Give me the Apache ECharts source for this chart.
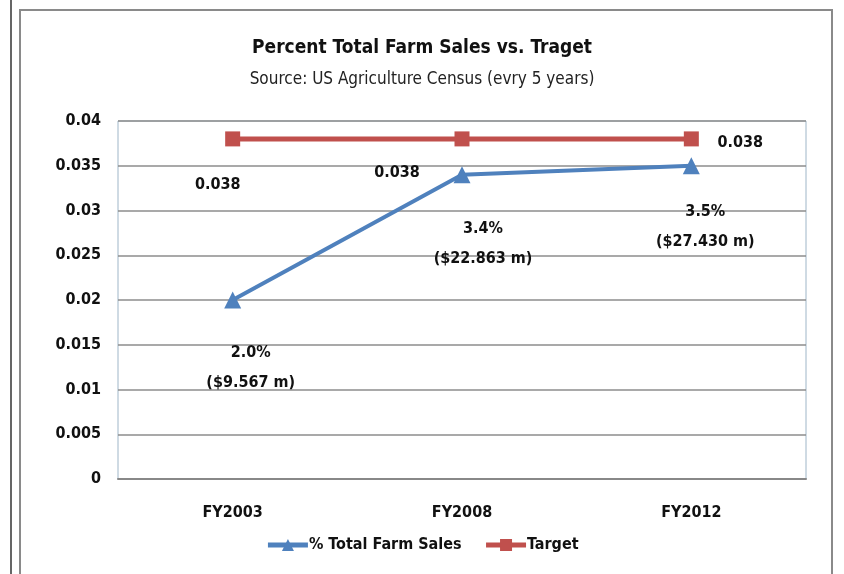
<!DOCTYPE html>
<html>
<head>
<meta charset="utf-8">
<script src="https://cdn.jsdelivr.net/npm/echarts@6/dist/echarts.min.js"></script>
<style>
  html, body { margin: 0; padding: 0; background: #fff; }
  #wrap { position: relative; width: 844px; height: 574px; overflow: hidden; }
  #edge { position: absolute; left: 10px; top: 0; width: 2px; height: 574px; background: #666; }
  #frame { position: absolute; left: 19px; top: 9px; width: 810px; height: 600px; border: 2px solid #8a8a8a; }
  #chart { position: absolute; left: 0; top: 0; width: 844px; height: 574px; }
</style>
</head>
<body>
<div id="wrap">
  <div id="edge"></div>
  <div id="frame"></div>
  <div id="chart"></div>
</div>
<script>
const categories = ['FY2003', 'FY2008', 'FY2012']
const salesShare = [0.02, 0.034, 0.035]
const salesDollars = ['$9.567 m', '$22.863 m', '$27.430 m']
const targetValues = [0.038, 0.038, 0.038]
const yTicks = [0, 0.005, 0.01, 0.015, 0.02, 0.025, 0.03, 0.035, 0.04]

// label offsets
const salesLabelOffsets = [[18, 68], [21, 69], [14, 61]]
const targetLabelOffsets = [[-15, 46], [-65, 34], [49, 4]]

const FONT = '"DejaVu Sans Condensed", Roboto, sans-serif'

const chart = echarts.init(document.getElementById('chart'))

chart.setOption({
  backgroundColor: 'transparent',
  animation: false,
  textStyle: { fontFamily: FONT },
  title: {
    text: 'Percent Total Farm Sales vs. Traget',
    subtext: 'Source: US Agriculture Census (evry 5 years)',
    left: 'center',
    top: 34,
    itemGap: 13,
    textStyle: { fontFamily: FONT, fontSize: 19, fontWeight: 'bold', color: '#111' },
    subtextStyle: { fontFamily: FONT, fontSize: 17, color: '#222' },
  },
  legend: {
    bottom: 16,
    left: 'center',
    itemWidth: 40,
    itemHeight: 15,
    itemGap: 22,
    lineStyle: { width: 5 },
    textStyle: { fontFamily: FONT, fontSize: 16, fontWeight: 'bold', color: '#111', padding: [0, 0, 0, -4] },
    data: ['% Total Farm Sales', 'Target'],
  },
  grid: {
    left: 118,
    top: 121,
    right: 38,
    bottom: 95,
    show: true,
    borderColor: '#9fb6c8',
    borderWidth: 1,
  },
  xAxis: {
    type: 'category',
    data: categories,
    boundaryGap: true,
    axisLine: { show: true, lineStyle: { color: '#888', width: 2 } },
    axisTick: { show: false },
    axisLabel: { margin: 26, fontFamily: FONT, fontSize: 16, fontWeight: 'bold', color: '#111' },
  },
  yAxis: {
    type: 'value',
    min: yTicks[0],
    max: yTicks[yTicks.length - 1],
    interval: yTicks[1] - yTicks[0],
    axisLine: { show: false },
    axisTick: { show: false },
    splitLine: { lineStyle: { color: '#8c8c8c', width: 1.5 } },
    axisLabel: {
      margin: 17,
      fontFamily: FONT,
      fontSize: 16,
      fontWeight: 'bold',
      color: '#111',
      formatter: (v) => String(Number(v.toFixed(3))),
    },
  },
  series: [
    {
      name: '% Total Farm Sales',
      type: 'line',
      data: salesShare.map((v, i) => ({
        value: v,
        label: { offset: salesLabelOffsets[i] },
      })),
      symbol: 'triangle',
      symbolSize: 17,
      z: 3,
      lineStyle: { color: '#4f81bd', width: 4 },
      itemStyle: { color: '#4f81bd' },
      label: {
        show: true,
        position: 'inside',
        fontFamily: FONT,
        fontSize: 16,
        fontWeight: 'bold',
        color: '#111',
        lineHeight: 30,
        align: 'center',
        formatter: (p) => (p.value * 100).toFixed(1) + '%\n(' + salesDollars[p.dataIndex] + ')',
      },
    },
    {
      name: 'Target',
      type: 'line',
      data: targetValues.map((v, i) => ({
        value: v,
        label: { offset: targetLabelOffsets[i] },
      })),
      symbol: 'rect',
      symbolSize: 15,
      z: 2,
      lineStyle: { color: '#c0504d', width: 5 },
      itemStyle: { color: '#c0504d' },
      label: {
        show: true,
        position: 'inside',
        fontFamily: FONT,
        fontSize: 16,
        fontWeight: 'bold',
        color: '#111',
        formatter: (p) => String(p.value),
      },
    },
  ],
})
</script>
</body>
</html>
